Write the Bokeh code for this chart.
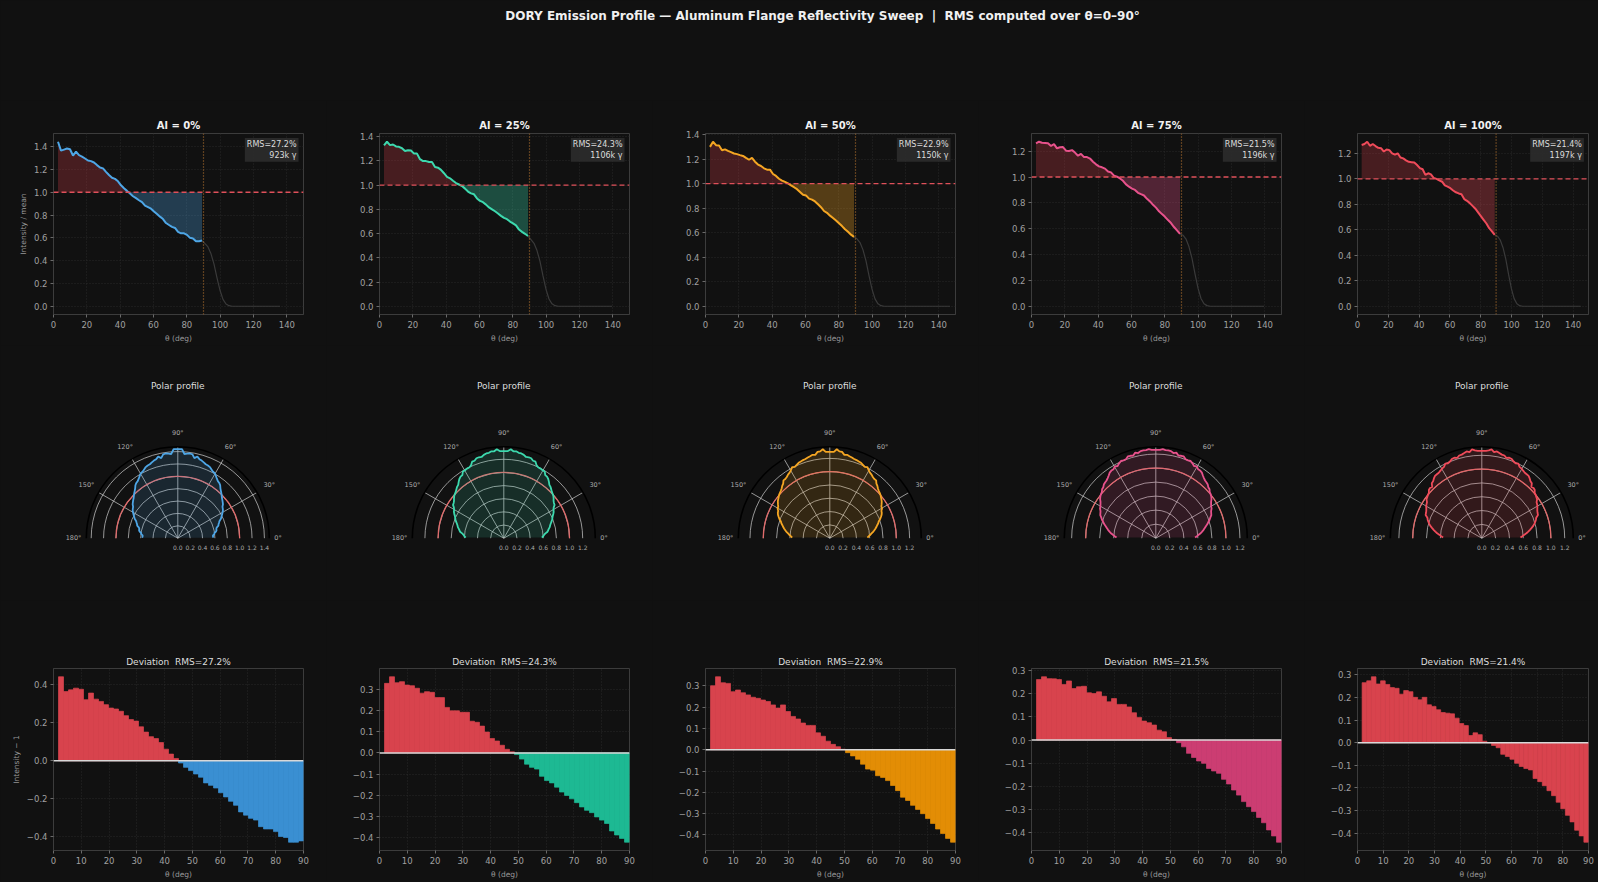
import numpy as np
from bokeh.plotting import figure
from bokeh.layouts import column, row
from bokeh.models import Span, Label, ColumnDataSource, Range1d, CustomJSTickFormatter
from bokeh.core.properties import value
from bokeh.embed import file_html
from bokeh.resources import INLINE

FONT = "DejaVu Sans"
BG = "#111111"
NB = "\u00a0"

# ---------------- data ----------------
BIN_W = 1.8  # bin width in degrees (100 bins over 0-180)
al_labels = ["Al = 0%", "Al = 25%", "Al = 50%", "Al = 75%", "Al = 100%"]
rms_pct = [27.2, 24.3, 22.9, 21.5, 21.4]
photons_k = [923, 1106, 1150, 1196, 1197]

# deviation (intensity/mean - 1) per 1.8-degree bin, theta 1.8..90
dev_al0 = [0.443, 0.365, 0.374, 0.383, 0.377, 0.322, 0.357, 0.325, 0.313, 0.296,
           0.278, 0.273, 0.261, 0.238, 0.217, 0.209, 0.179, 0.151, 0.127, 0.117,
           0.096, 0.061, 0.035, 0.012, -0.012, -0.035, -0.052, -0.070, -0.087, -0.117,
           -0.130, -0.144, -0.169, -0.191, -0.214, -0.235, -0.270, -0.287, -0.304, -0.313,
           -0.348, -0.360, -0.360, -0.374, -0.400, -0.405, -0.430, -0.430, -0.423]
dev_al25 = [0.327, 0.358, 0.330, 0.335, 0.319, 0.316, 0.304, 0.281, 0.288, 0.285,
            0.260, 0.260, 0.214, 0.198, 0.198, 0.191, 0.191, 0.149, 0.144, 0.126,
            0.098, 0.068, 0.056, 0.036, 0.017, 0.005, -0.008, -0.029, -0.053, -0.068,
            -0.076, -0.110, -0.130, -0.141, -0.161, -0.184, -0.200, -0.216, -0.234, -0.254,
            -0.270, -0.281, -0.301, -0.316, -0.332, -0.367, -0.386, -0.402, -0.420]
dev_al50 = [0.300, 0.342, 0.314, 0.311, 0.272, 0.280, 0.267, 0.257, 0.246, 0.241,
            0.233, 0.226, 0.210, 0.195, 0.210, 0.179, 0.156, 0.144, 0.125, 0.114,
            0.114, 0.079, 0.063, 0.040, 0.025, 0.014, 0.002, -0.014, -0.029, -0.045,
            -0.068, -0.091, -0.096, -0.122, -0.130, -0.145, -0.168, -0.192, -0.223, -0.238,
            -0.261, -0.280, -0.300, -0.323, -0.346, -0.372, -0.393, -0.416, -0.434]
dev_al75 = [0.261, 0.273, 0.265, 0.264, 0.261, 0.240, 0.255, 0.222, 0.230, 0.232,
            0.204, 0.201, 0.208, 0.189, 0.165, 0.179, 0.154, 0.154, 0.143, 0.118,
            0.098, 0.082, 0.075, 0.065, 0.043, 0.036, 0.011, 0.003, -0.011, -0.029,
            -0.057, -0.075, -0.090, -0.100, -0.122, -0.133, -0.143, -0.169, -0.189, -0.215,
            -0.237, -0.265, -0.287, -0.308, -0.333, -0.356, -0.387, -0.413, -0.440]
dev_al100 = [0.266, 0.274, 0.292, 0.260, 0.274, 0.258, 0.244, 0.241, 0.215, 0.231,
             0.226, 0.201, 0.190, 0.201, 0.168, 0.161, 0.146, 0.134, 0.131, 0.128,
             0.109, 0.085, 0.076, 0.032, 0.044, 0.036, 0.007, 0.000, -0.012, -0.022,
             -0.051, -0.061, -0.073, -0.091, -0.105, -0.114, -0.120, -0.158, -0.172, -0.190,
             -0.212, -0.234, -0.263, -0.292, -0.321, -0.350, -0.387, -0.412, -0.440]
devs = [dev_al0, dev_al25, dev_al50, dev_al75, dev_al100]

# intensity beyond 90 deg (grey tail)
tail_vals = [0.55, 0.52, 0.46, 0.37, 0.25, 0.14, 0.06, 0.02, 0.005, 0.0,
             0.0, 0.0, 0.0, 0.0, 0.0, 0.0, 0.0, 0.0, 0.0, 0.0,
             0.0, 0.0, 0.0, 0.0, 0.0, 0.0, 0.0, 0.0, 0.0, 0.0,
             0.0, 0.0]
tail_len = [26, 28, 32, 28, 31]

line_colors = ["#4ea6e6", "#3dd9ae", "#f5a623", "#e8528c", "#f04b5a"]
neg_colors = ["#3a8fd2", "#1db993", "#e38d05", "#cc3d72", "#d9434e"]
POS_COLOR = "#d8434d"
polar_rtick_max = [1.4, 1.2, 1.2, 1.2, 1.2]
dev_tick_step = [0.2, 0.1, 0.1, 0.1, 0.1]

theta = BIN_W * (np.arange(len(dev_al0)) + 1.5)          # bin centres 2.7 .. 89.1
tail_theta = 90.0 + BIN_W * (np.arange(len(tail_vals)) + 0.5)

# ---------------- layout constants ----------------
COL_W = [326, 326, 326, 326, 292]
BORDER_L = 53
FRAME_W = [250, 250, 250, 250, 231]

fmt1 = CustomJSTickFormatter(code="return tick.toFixed(1).replace('-', '\u2212');")


def style_axes(p):
    p.background_fill_color = BG
    p.border_fill_color = BG
    p.outline_line_color = "#3c3c3c"
    for ax in p.axis:
        ax.axis_line_color = "#3c3c3c"
        ax.major_tick_line_color = "#6a6a6a"
        ax.minor_tick_line_color = None
        ax.major_tick_out = 3
        ax.major_tick_in = 0
        ax.major_label_text_color = "#a0a0a0"
        ax.major_label_text_font = FONT
        ax.major_label_text_font_size = "8.5px"
        ax.major_label_standoff = 3
        ax.axis_label_text_color = "#9a9a9a"
        ax.axis_label_text_font = FONT
        ax.axis_label_text_font_size = "7.5px"
        ax.axis_label_text_font_style = "normal"
        ax.axis_label_standoff = 3
    for g in p.grid:
        g.grid_line_color = "#2a2a2a"
        g.grid_line_dash = "1 2"
        g.grid_line_alpha = 0.9
    p.title.text_font = FONT
    p.title.align = "center"


def top_panel(i):
    vals = 1 + np.array(devs[i])
    vmax = vals.max()
    y0, y1 = -0.05 * vmax, 1.05 * vmax
    p = figure(width=COL_W[i], height=245, x_range=Range1d(0, 150), y_range=Range1d(y0, y1),
               min_border_left=BORDER_L, min_border_right=COL_W[i] - BORDER_L - FRAME_W[i],
               min_border_top=33, min_border_bottom=28, output_backend="svg",
               toolbar_location=None, title=al_labels[i])
    style_axes(p)
    p.title.text_font_size = "10px"
    p.title.text_font_style = "bold"
    p.title.text_color = "#f2f2f2"
    p.title.standoff = 6
    p.xaxis.ticker = list(range(0, 141, 20))
    p.yaxis.ticker = [round(t, 1) for t in np.arange(0, y1 + 1e-9, 0.2)]
    p.yaxis.formatter = fmt1
    p.xaxis.axis_label = "θ (deg)"
    if i == 0:
        p.yaxis.axis_label = "Intensity / mean"

    p.varea(x=theta, y1=np.ones_like(vals), y2=np.maximum(vals, 1.0),
            fill_color="#c63a45", fill_alpha=0.3)
    p.varea(x=theta, y1=np.minimum(vals, 1.0), y2=np.ones_like(vals),
            fill_color=line_colors[i], fill_alpha=0.3)
    n = tail_len[i]
    p.line(np.concatenate([[theta[-1]], tail_theta[:n]]),
           np.concatenate([[vals[-1]], tail_vals[:n]]),
           line_color="#3a3a3a", line_width=1.2)
    p.line(theta, vals, line_color=line_colors[i], line_width=2)
    p.add_layout(Span(location=1.0, dimension="width", line_color="#e0505a",
                      line_dash="5 3", line_width=1.3))
    p.add_layout(Span(location=90, dimension="height", line_color="#b0702e",
                      line_dash="1 2", line_width=1.2))
    ppu_y = 184.0 / (y1 - y0)
    p.add_layout(Label(x=147, y=y1 - 4.5 / ppu_y,
                       text=f"RMS={rms_pct[i]:.1f}%\n{photons_k[i]}k γ",
                       text_align="right", text_baseline="top",
                       text_font=FONT, text_font_size="8px", text_color="#dcdcdc",
                       background_fill_color="#2c2c2c", background_fill_alpha=0.9,
                       padding=2))
    return p


R_PX = 91.5
CX = 177.3
CY_TOP = 192.7
POL_H = 255


def polar_panel(i):
    vals = 1 + np.array(devs[i])
    rmax = vals.max() * 1.025
    ppu = R_PX / rmax
    w = COL_W[i]
    p = figure(width=w, height=POL_H,
               x_range=Range1d(-CX / ppu, (w - CX) / ppu),
               y_range=Range1d(-(POL_H - CY_TOP) / ppu, CY_TOP / ppu),
               x_axis_type=None, y_axis_type=None, min_border=0,
               output_backend="svg", toolbar_location=None)
    p.background_fill_color = BG
    p.border_fill_color = BG
    p.outline_line_color = None
    p.grid.visible = False

    rt = [round(t, 1) for t in np.arange(0.2, polar_rtick_max[i] + 1e-9, 0.2)]
    p.arc(x=0, y=0, radius=rt, start_angle=0, end_angle=np.pi,
          line_color="#c4c4c4", line_alpha=0.75, line_width=1)
    spokes = np.radians([30, 60, 90, 120, 150])
    p.segment(x0=0, y0=0, x1=rmax * np.cos(spokes), y1=rmax * np.sin(spokes),
              line_color="#c4c4c4", line_alpha=0.75, line_width=1)
    p.arc(x=0, y=0, radius=rmax, start_angle=0, end_angle=np.pi,
          line_color="#000000", line_width=1.6)
    p.arc(x=0, y=0, radius=1.0, start_angle=0, end_angle=np.pi,
          line_color="#e06a6a", line_width=1.3)

    phi_r = np.radians(90 - theta)
    phi_l = np.radians(90 + theta)
    xs = np.concatenate([(vals * np.cos(phi_r))[::-1], vals * np.cos(phi_l)])
    ys = np.concatenate([(vals * np.sin(phi_r))[::-1], vals * np.sin(phi_l)])
    p.patch(xs, ys, fill_color=line_colors[i], fill_alpha=0.15, line_color=None)
    p.line(xs, ys, line_color=line_colors[i], line_width=1.8)

    # angular labels
    angs = [30, 60, 90, 120, 150]
    ra = (R_PX + 14) / ppu
    p.text(x=list(ra * np.cos(np.radians(angs))), y=list(ra * np.sin(np.radians(angs))),
           text=[f"{a}°" for a in angs], text_align="center", text_baseline="middle",
           text_font=value(FONT), text_font_size=value("6.5px"), text_color="#aaaaaa")
    p.text(x=[(R_PX + 5) / ppu], y=[0], text=["0°"], text_align="left",
           text_baseline="middle", text_font=value(FONT), text_font_size=value("6.5px"),
           text_color="#aaaaaa")
    p.text(x=[-(R_PX + 5) / ppu], y=[0], text=["180°"], text_align="right",
           text_baseline="middle", text_font=value(FONT), text_font_size=value("6.5px"),
           text_color="#aaaaaa")
    # radial labels
    rl = [0.0] + rt
    p.text(x=rl, y=[-9 / ppu] * len(rl), text=[f"{r:.1f}" for r in rl],
           text_align="center", text_baseline="middle", text_font=value(FONT),
           text_font_size=value("6px"), text_color="#aaaaaa")
    p.text(x=[0], y=[(CY_TOP - 40) / ppu], text=["Polar profile"], text_align="center",
           text_baseline="middle", text_font=value(FONT), text_font_size=value("9px"),
           text_color="#dddddd")
    return p


def dev_panel(i):
    d = np.array(devs[i])
    lo, hi = d.min(), d.max()
    span = hi - lo
    y0, y1 = lo - 0.05 * span, hi + 0.05 * span
    p = figure(width=COL_W[i], height=281, x_range=Range1d(0, 90),
               y_range=Range1d(y0, y1),
               min_border_left=BORDER_L, min_border_right=COL_W[i] - BORDER_L - FRAME_W[i],
               min_border_top=68, min_border_bottom=28, output_backend="svg",
               toolbar_location=None,
               title=f"Deviation{NB} RMS={rms_pct[i]:.1f}%")
    style_axes(p)
    p.title.text_font_size = "9px"
    p.title.text_font_style = "normal"
    p.title.text_color = "#dddddd"
    p.title.standoff = 4
    p.xaxis.ticker = list(range(0, 91, 10))
    step = dev_tick_step[i]
    ticks = np.arange(np.ceil(y0 / step) * step, y1 + 1e-9, step)
    p.yaxis.ticker = [round(t, 1) for t in ticks]
    p.yaxis.formatter = fmt1
    p.xaxis.axis_label = "θ (deg)"
    if i == 0:
        p.yaxis.axis_label = "Intensity − 1"
    colors = [POS_COLOR if v >= 0 else neg_colors[i] for v in d]
    src = ColumnDataSource(dict(x=theta, top=d, color=colors))
    p.vbar(x="x", top="top", bottom=0, width=BIN_W, fill_color="color",
           line_color="color", line_width=0.7, source=src)
    p.add_layout(Span(location=0, dimension="width", line_color="#d8d8d8", line_width=1.5))
    return p


# title strip
TW = sum(COL_W)
tp = figure(width=TW, height=100, x_range=Range1d(0, TW), y_range=Range1d(0, 100),
            x_axis_type=None, y_axis_type=None, min_border=0,
            output_backend="svg", toolbar_location=None)
tp.background_fill_color = BG
tp.border_fill_color = BG
tp.outline_line_color = None
tp.grid.visible = False
tp.add_layout(Label(x=822, y=85,
                    text=f"DORY Emission Profile — Aluminum Flange Reflectivity Sweep {NB}|{NB} RMS computed over θ=0–90°",
                    text_align="center", text_baseline="middle", text_font=FONT,
                    text_font_size="12px", text_font_style="bold", text_color="#f0f0f0"))

n = len(devs)
layout = column(tp,
                row(*[top_panel(i) for i in range(n)]),
                row(*[polar_panel(i) for i in range(n)]),
                row(*[dev_panel(i) for i in range(n)]))

html = file_html(layout, INLINE, title="DORY Emission Profile")
html = html.replace("</head>", "<style>body{background:#111111;}</style></head>", 1)
open("out.html", "w").write(html)
